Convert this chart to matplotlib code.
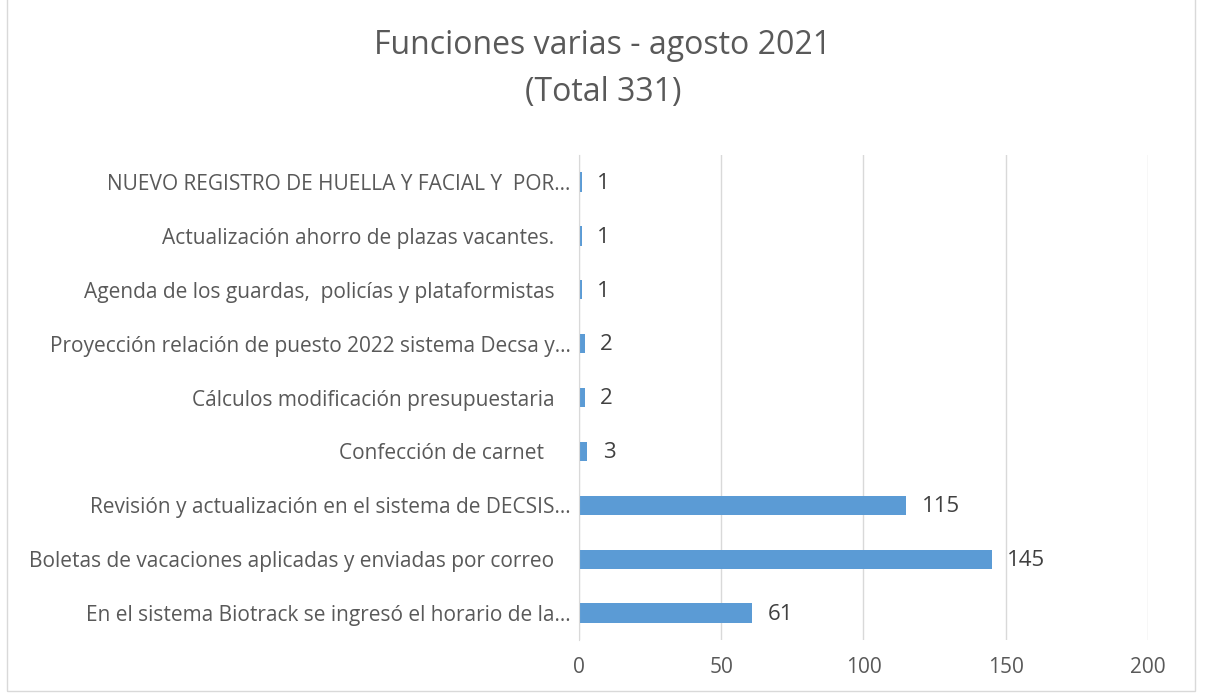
import matplotlib.pyplot as plt
import matplotlib.patches as mpatch

categories = [
    "En el sistema Biotrack se ingresó el horario de la...",
    "Boletas de vacaciones aplicadas y enviadas por correo   ",
    "Revisión y actualización en el sistema de DECSIS...",
    "Confección de carnet     ",
    "Cálculos modificación presupuestaria   ",
    "Proyección relación de puesto 2022 sistema Decsa y...",
    "Agenda de los guardas,  policías y plataformistas   ",
    "Actualización ahorro de plazas vacantes.   ",
    "NUEVO REGISTRO DE HUELLA Y FACIAL Y  POR...",
]
values = [61, 145, 115, 3, 2, 2, 1, 1, 1]
xticks = [0, 50, 100, 150, 200]

bar_color = "#5B9BD5"
text_color = "#595959"
grid_color = "#D9D9D9"

plt.rcParams['font.family'] = ['Open Sans', 'DejaVu Sans']

fig = plt.figure(figsize=[12.06, 6.98], dpi=100)
ax = fig.add_axes([0.480, 0.083, 0.472, 0.695])

pos = list(range(len(categories)))
ax.barh(pos, values, height=0.36, color=bar_color, zorder=3)
for y, v in zip(pos, values):
    ax.annotate(str(v), (v, y), xytext=(11, -1), textcoords='offset points',
                va='center', ha='left', fontsize=16, color="#404040")

ax.set_xlim(0, 200)
ax.set_ylim(-0.5, len(categories) - 0.5)
ax.set_xticks(xticks)
ax.set_yticks(pos)
ax.set_yticklabels(categories)
ax.tick_params(axis='both', length=0, colors=text_color, labelsize=15)
ax.tick_params(axis='x', pad=12)
ax.tick_params(axis='y', pad=6)
ax.grid(axis='x', color=grid_color, linewidth=1, zorder=0)
for s in ['top', 'right', 'bottom']:
    ax.spines[s].set_visible(False)
ax.spines['left'].set_color(grid_color)
ax.spines['left'].set_zorder(4)

fig.text(0.5, 0.935, "Funciones varias - agosto 2021", ha='center', va='center',
         fontsize=23, color=text_color)
fig.text(0.5, 0.868, "(Total 331)", ha='center', va='center',
         fontsize=23, color=text_color)

border = mpatch.Rectangle((0.006, 0.01), 0.985, 1.2, transform=fig.transFigure,
                          fill=False, edgecolor=grid_color, linewidth=1)
fig.patches.append(border)

fig.savefig("out.png", dpi=100)
